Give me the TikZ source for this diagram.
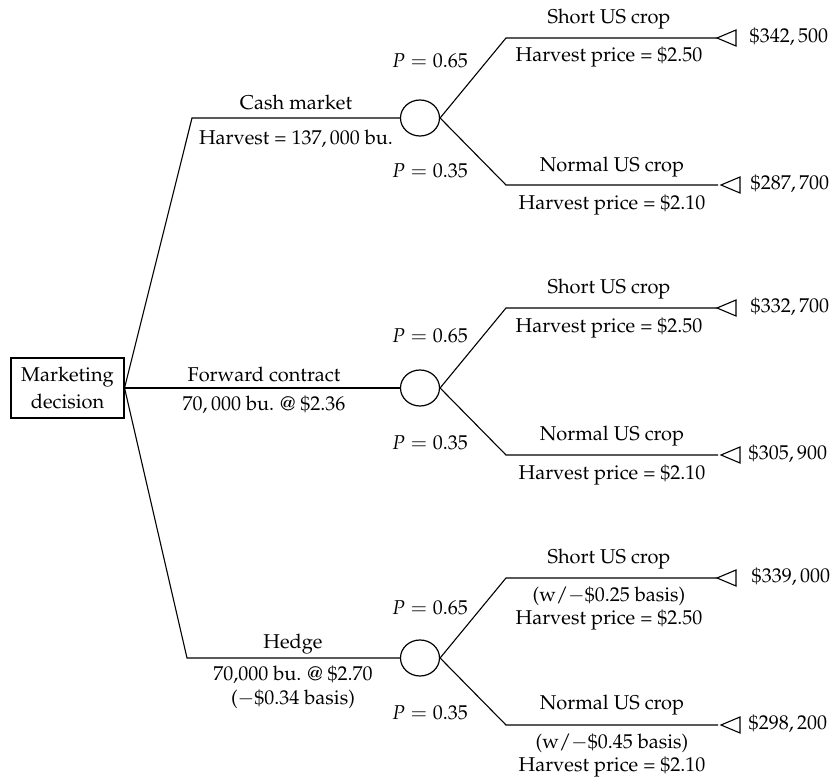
\documentclass[tikz,border=0pt]{standalone}
\usepackage[T1]{fontenc}
\usepackage{mathpazo}
\usetikzlibrary{shapes.geometric}
\tikzset{
  ln/.style={line width=0.55pt},
  chance/.style={ellipse, draw, line width=0.6pt, minimum width=19.5pt, minimum height=18pt, inner sep=0pt},
  decbox/.style={rectangle, draw, line width=0.55pt, minimum width=56.5pt, minimum height=30pt, inner sep=0pt, align=center},
  lbl/.style={anchor=base, inner sep=0pt},
  val/.style={anchor=base west, inner sep=0pt},
}
\begin{document}
\begin{tikzpicture}[x=0.5pt, y=-0.5pt]
\useasboundingbox (0,0) rectangle (832,780);
% decision node
\node[decbox] (dec) at (67.5,388) {Marketing\\[1.5pt]decision};
% chance nodes
\node[chance] (c1) at (420,118) {};
\node[chance] (c2) at (420,388) {};
\node[chance] (c3) at (420,658) {};
% corners
\coordinate (a1) at (192,118);
\coordinate (a3) at (187,658);
\draw[ln] (dec.east) -- (a1) -- (c1.west);
\draw[ln] (dec.east) -- (c2.west);
\draw[ln] (dec.east) -- (a3) -- (c3.west);
% chance branches
\foreach \c/\y in {1/118, 2/388, 3/658}{
  \coordinate (u\c) at (506,\y-80);
  \coordinate (d\c) at (506,\y+67);
  \coordinate (eu\c) at (717,\y-80);
  \coordinate (ed\c) at (718,\y+67);
  \coordinate (tu\c) at (717,\y-80);
  \coordinate (td\c) at (721,\y+67);
  \draw[ln] (c\c.east) -- (u\c) -- (eu\c);
  \draw[ln] (c\c.east) -- (d\c) -- (ed\c);
  \draw[ln, line join=miter] (tu\c) -- ++(19,-8) -- ++(0,16) -- cycle;
  \draw[ln, line join=miter] (td\c) -- ++(19,-8) -- ++(0,16) -- cycle;
}
% decision branch labels
\node[lbl] (l1a) at (296,110) {Cash market};
\node[lbl] (l1b) at (296,145) {Harvest = $137,000$ bu.};
\node[lbl] (l2a) at (264,382) {Forward contract};
\node[lbl] (l2b) at (264,411) {$70,000$ bu. @ \$2.36};
\node[lbl] (l3a) at (293,649) {Hedge};
\node[lbl] (l3b) at (293,681) {70,000 bu. @ \$2.70};
\node[lbl] (l3c) at (293,705) {($-$\$0.34 basis)};
% probabilities
\node[lbl] (p1u) at (430,68) {$P = 0.65$};
\node[lbl] (p1d) at (430,178) {$P = 0.35$};
\node[lbl] (p2u) at (430,343) {$P = 0.65$};
\node[lbl] (p2d) at (430,450) {$P = 0.35$};
\node[lbl] (p3u) at (430,615) {$P = 0.65$};
\node[lbl] (p3d) at (430,720) {$P = 0.35$};
% outcome labels
\node[lbl] (s1a) at (609,24) {Short US crop};
\node[lbl] (s1b) at (609,62) {Harvest price = \$2.50};
\node[lbl] (n1a) at (612,172) {Normal US crop};
\node[lbl] (n1b) at (612,210) {Harvest price = \$2.10};
\node[lbl] (s2a) at (609,294) {Short US crop};
\node[lbl] (s2b) at (609,333) {Harvest price = \$2.50};
\node[lbl] (n2a) at (612,441) {Normal US crop};
\node[lbl] (n2b) at (612,480) {Harvest price = \$2.10};
\node[lbl] (s3a) at (609,564) {Short US crop};
\node[lbl] (s3b) at (609,602) {(w/$-$\$0.25 basis)};
\node[lbl] (s3c) at (609,625) {Harvest price = \$2.50};
\node[lbl] (n3a) at (612,710) {Normal US crop};
\node[lbl] (n3b) at (612,749) {(w/$-$\$0.45 basis)};
\node[lbl] (n3c) at (612,772) {Harvest price = \$2.10};
% values
\node[val] (v1u) at (749,43) {$\$342,500$};
\node[val] (v1d) at (750,190) {$\$287,700$};
\node[val] (v2u) at (750,313) {$\$332,700$};
\node[val] (v2d) at (748,460) {$\$305,900$};
\node[val] (v3u) at (751,583) {$\$339,000$};
\node[val] (v3d) at (748,730) {$\$298,200$};
\end{tikzpicture}
\end{document}
